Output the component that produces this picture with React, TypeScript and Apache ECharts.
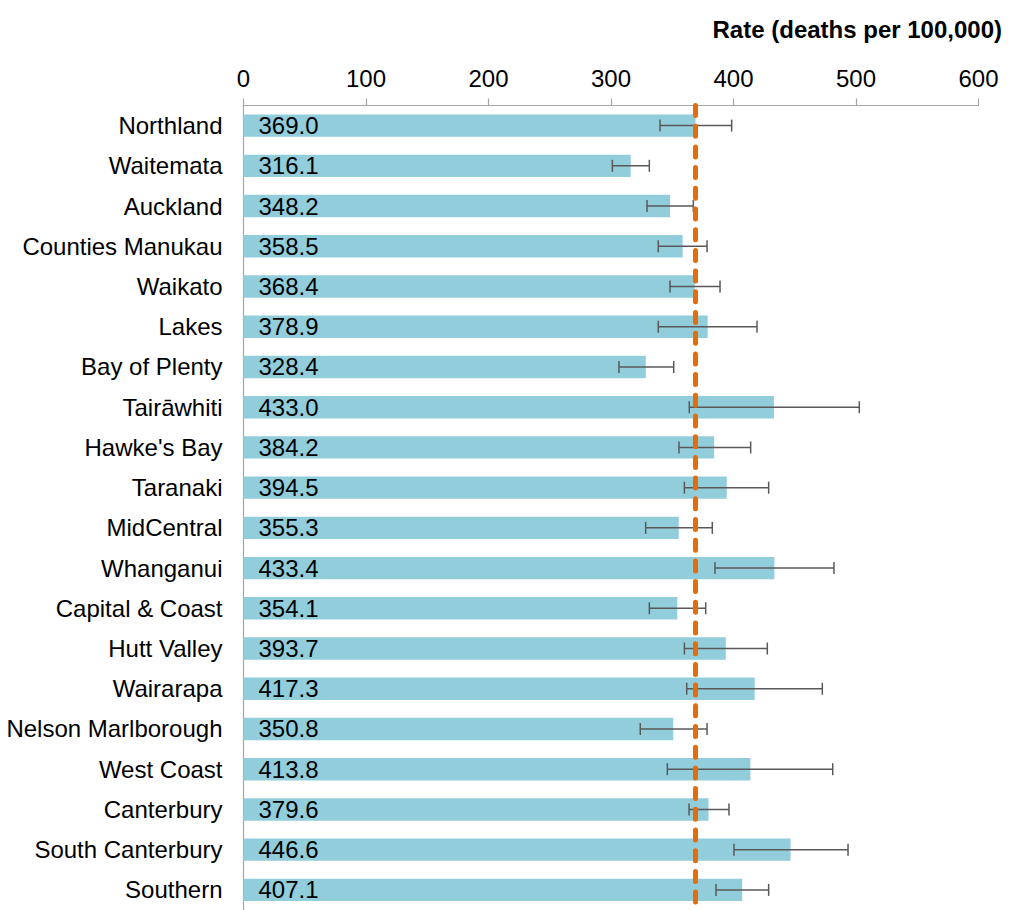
import React, { useEffect, useRef } from "react";
import * as echarts from "echarts";

// District health boards, top to bottom
const regions = [
  "Northland",
  "Waitemata",
  "Auckland",
  "Counties Manukau",
  "Waikato",
  "Lakes",
  "Bay of Plenty",
  "Tairāwhiti",
  "Hawke's Bay",
  "Taranaki",
  "MidCentral",
  "Whanganui",
  "Capital & Coast",
  "Hutt Valley",
  "Wairarapa",
  "Nelson Marlborough",
  "West Coast",
  "Canterbury",
  "South Canterbury",
  "Southern",
];

// Age-standardised death rate per 100,000
const rates = [
  369.0, 316.1, 348.2, 358.5, 368.4, 378.9, 328.4, 433.0, 384.2, 394.5,
  355.3, 433.4, 354.1, 393.7, 417.3, 350.8, 413.8, 379.6, 446.6, 407.1,
];

// 95% confidence interval bounds
const lowerCI = [
  340.0, 301.1, 329.4, 338.6, 348.2, 338.6, 306.5, 363.9, 355.5, 359.9,
  328.3, 384.9, 331.3, 359.9, 361.8, 323.9, 346.0, 363.7, 400.4, 385.7,
];
const upperCI = [
  398.5, 331.3, 367.2, 378.4, 389.0, 419.2, 351.2, 502.7, 414.0, 428.7,
  382.7, 482.0, 377.3, 427.6, 472.5, 378.4, 481.0, 396.3, 493.5, 428.7,
];

// New Zealand overall rate
const nationalRate = 368.6;

const axisTicks = { min: 0, max: 600, interval: 100 };

const FONT = "'Liberation Sans', Arial, sans-serif";

export default function App() {
  const ref = useRef<HTMLDivElement>(null);

  useEffect(() => {
    if (!ref.current) return;
    const chart = echarts.init(ref.current, undefined, { renderer: "svg" });

    const ciData = regions.map((_, i) => [lowerCI[i], upperCI[i], i]);

    chart.setOption({
      animation: false,
      textStyle: { fontFamily: FONT },
      title: {
        text: "Rate (deaths per 100,000)",
        right: 3,
        top: 12,
        textStyle: {
          fontFamily: FONT,
          fontSize: 24,
          fontWeight: "bold",
          color: "#000",
        },
      },
      grid: { left: 243.5, top: 105.5, width: 735, height: 807.6 },
      xAxis: {
        type: "value",
        position: "top",
        min: axisTicks.min,
        max: axisTicks.max,
        interval: axisTicks.interval,
        axisLine: { show: true, lineStyle: { color: "#A6A6A6", width: 1.2 } },
        axisTick: { show: true, length: 7, lineStyle: { color: "#A6A6A6", width: 1.2 } },
        splitLine: { show: false },
        axisLabel: { fontSize: 24, color: "#000", margin: 15, fontFamily: FONT },
      },
      yAxis: {
        type: "category",
        data: regions,
        inverse: true,
        axisLine: { show: true, lineStyle: { color: "#A6A6A6", width: 1.2 } },
        axisTick: { show: false },
        axisLabel: { fontSize: 24, color: "#000", margin: 21, fontFamily: FONT },
      },
      series: [
        {
          type: "bar",
          data: rates,
          barWidth: 22.4,
          itemStyle: { color: "#92CDDC" },
          label: {
            show: true,
            position: "insideLeft",
            distance: 15,
            fontSize: 24,
            color: "#000",
            fontFamily: FONT,
            formatter: (p: any) => Number(p.value).toFixed(1),
          },
          z: 2,
        },
        {
          type: "custom",
          data: ciData,
          encode: { x: [0, 1], y: 2 },
          z: 3,
          renderItem: (params: any, api: any) => {
            const idx = api.value(2);
            const lo = api.coord([api.value(0), idx]);
            const hi = api.coord([api.value(1), idx]);
            const h = 6;
            const style = { stroke: "#595959", lineWidth: 1.5 };
            return {
              type: "group",
              children: [
                { type: "line", shape: { x1: lo[0], y1: lo[1], x2: hi[0], y2: hi[1] }, style },
                { type: "line", shape: { x1: lo[0], y1: lo[1] - h, x2: lo[0], y2: lo[1] + h }, style },
                { type: "line", shape: { x1: hi[0], y1: hi[1] - h, x2: hi[0], y2: hi[1] + h }, style },
              ],
            };
          },
        },
        {
          type: "line",
          data: [],
          z: 5,
          markLine: {
            silent: true,
            symbol: "none",
            label: { show: false },
            lineStyle: {
              color: "#E46C0A",
              width: 5,
              type: [10, 10.7],
              cap: "round",
            },
            data: [{ xAxis: nationalRate }],
          },
        },
      ],
    });

    return () => chart.dispose();
  }, []);

  return (
    <div
      ref={ref}
      style={{ position: "absolute", left: 0, top: 0, width: 1010, height: 910 }}
    />
  );
}
